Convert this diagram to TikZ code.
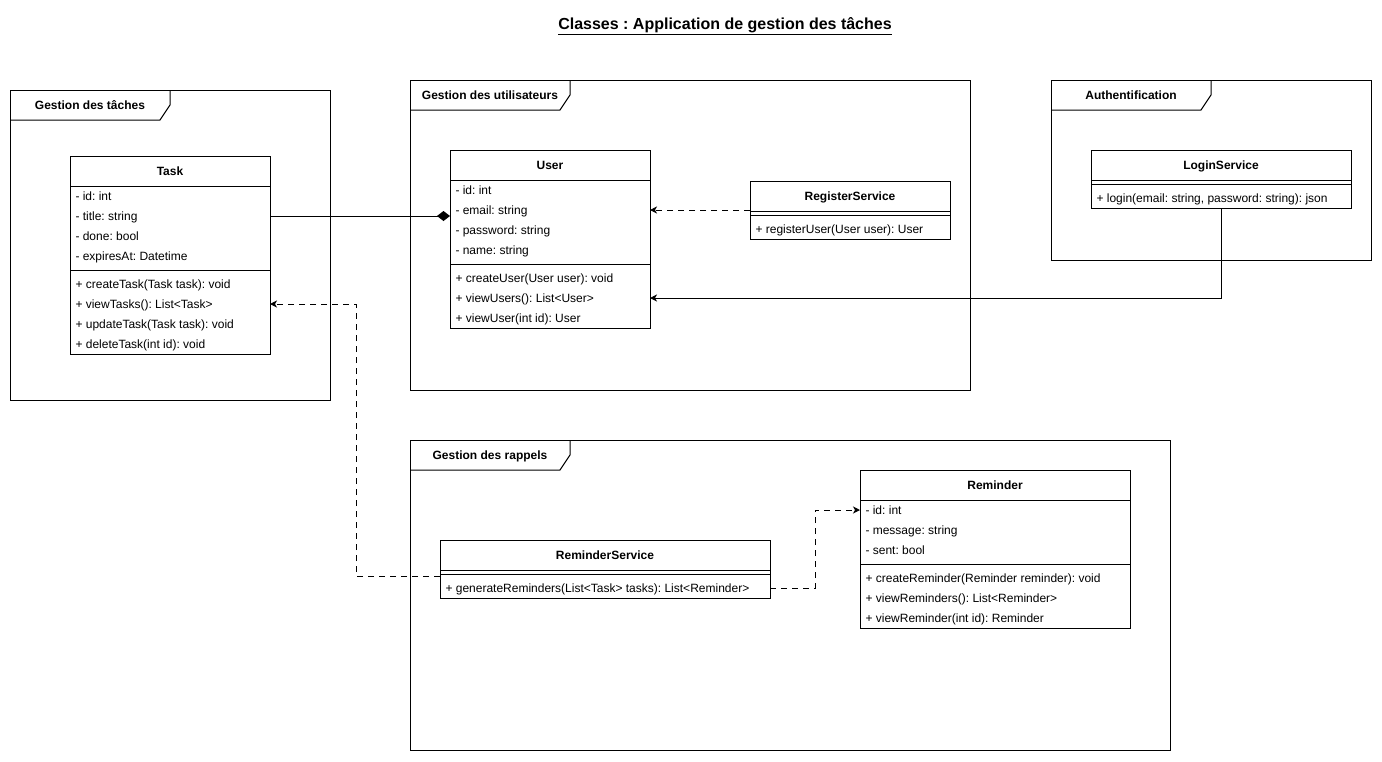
\documentclass[tikz,border=0pt]{standalone}
\usepackage{fontspec}
\setmainfont{Liberation Sans}
\usetikzlibrary{arrows.meta}
\frenchspacing

\begin{document}
\begin{tikzpicture}[x=1pt, y=-1pt, line width=1pt,
    frame/.style={draw, anchor=north west, inner sep=0pt, outer sep=0pt},
    umlclass/.style={draw, fill=white, anchor=north west, inner sep=0pt, outer sep=0pt},
    classname/.style={font=\bfseries\fontsize{12}{14}\selectfont, inner sep=0pt, text height=8.6pt, text depth=0pt},
    members/.style={anchor=north west, align=left, inner sep=0pt, font=\fontsize{12}{20}\selectfont},
    depline/.style={dash pattern=on 6pt off 5pt, -{Stealth[length=7pt,width=7pt,inset=2pt]}},
    assoc/.style={-{Stealth[length=7pt,width=7pt,inset=2pt]}},
    compo/.style={-{Diamond[length=13pt,width=10pt]}}]
        \path[use as bounding box, fill=white] (0,0) rectangle (1382,761);
        
        % Title
        \node[font=\bfseries\fontsize{16}{19}\selectfont, inner sep=0pt, text height=11.5pt, text depth=0pt] (title) at (725,24) {\underline{Classes : Application de gestion des tâches}};
        
        % Gestion des taches
        \node[frame, minimum width=320, minimum height=310] (tasks) at (10,90) {};
        \draw ([yshift=-30pt]tasks.north west) -- ++(150,0) -- ++(10,-15) -- ++(0,-15);
        \node[classname] (taskslabel) at ([xshift=80pt,yshift=-15pt]tasks.north west) {Gestion des tâches};
        
        % Gestion des utilisateurs
        \node[frame, minimum width=560, minimum height=310] (users) at (410,80) {};
        \draw ([yshift=-30pt]users.north west) -- ++(150,0) -- ++(10,-15) -- ++(0,-15);
        \node[classname] (userslabel) at ([xshift=80pt,yshift=-15pt]users.north west) {Gestion des utilisateurs};
        
        % Authentification
        \node[frame, minimum width=320, minimum height=180] (auth) at (1051,80) {};
        \draw ([yshift=-30pt]auth.north west) -- ++(150,0) -- ++(10,-15) -- ++(0,-15);
        \node[classname] (authlabel) at ([xshift=80pt,yshift=-15pt]auth.north west) {Authentification};
        
        % Gestion des rappels
        \node[frame, minimum width=760, minimum height=310] (reminders) at (410,440) {};
        \draw ([yshift=-30pt]reminders.north west) -- ++(150,0) -- ++(10,-15) -- ++(0,-15);
        \node[classname] (reminderslabel) at ([xshift=80pt,yshift=-15pt]reminders.north west) {Gestion des rappels};
        
        % Task
        \node[umlclass, minimum width=200, minimum height=198] (task) at (70,156) {};
        \draw ([yshift=-30pt]task.north west) -- ([yshift=-30pt]task.north east);
        \draw ([yshift=-114pt]task.north west) -- ([yshift=-114pt]task.north east);
        \node[classname] (taskname) at ([yshift=-15pt]task.north) {Task};
        \node[members] (taskfields) at ([xshift=5pt,yshift=-30pt]task.north west) {\strut- id: int\\- title: string\\- done: bool\\- expiresAt: Datetime};
        \node[members] (taskops) at ([xshift=5pt,yshift=-118pt]task.north west) {\strut+ createTask(Task task): void\\+ viewTasks(): List<Task>\\+ updateTask(Task task): void\\+ deleteTask(int id): void};
        
        % User
        \node[umlclass, minimum width=200, minimum height=178] (user) at (450,150) {};
        \draw ([yshift=-30pt]user.north west) -- ([yshift=-30pt]user.north east);
        \draw ([yshift=-114pt]user.north west) -- ([yshift=-114pt]user.north east);
        \node[classname] (username) at ([yshift=-15pt]user.north) {User};
        \node[members] (userfields) at ([xshift=5pt,yshift=-30pt]user.north west) {\strut- id: int\\- email: string\\- password: string\\- name: string};
        \node[members] (userops) at ([xshift=5pt,yshift=-118pt]user.north west) {\strut+ createUser(User user): void\\+ viewUsers(): List<User>\\+ viewUser(int id): User};
        
        % RegisterService
        \node[umlclass, minimum width=200, minimum height=58] (register) at (750,181) {};
        \draw ([yshift=-30pt]register.north west) -- ([yshift=-30pt]register.north east);
        \draw ([yshift=-34pt]register.north west) -- ([yshift=-34pt]register.north east);
        \node[classname] (registername) at ([yshift=-15pt]register.north) {RegisterService};
        \node[members] (registerops) at ([xshift=5pt,yshift=-38pt]register.north west) {\strut+ registerUser(User user): User};
        
        % LoginService
        \node[umlclass, minimum width=260, minimum height=58] (login) at (1091,150) {};
        \draw ([yshift=-30pt]login.north west) -- ([yshift=-30pt]login.north east);
        \draw ([yshift=-34pt]login.north west) -- ([yshift=-34pt]login.north east);
        \node[classname] (loginname) at ([yshift=-15pt]login.north) {LoginService};
        \node[members] (loginops) at ([xshift=5pt,yshift=-38pt]login.north west) {\strut+ login(email: string, password: string): json};
        
        % ReminderService
        \node[umlclass, minimum width=330, minimum height=58] (remservice) at (440,540) {};
        \draw ([yshift=-30pt]remservice.north west) -- ([yshift=-30pt]remservice.north east);
        \draw ([yshift=-34pt]remservice.north west) -- ([yshift=-34pt]remservice.north east);
        \node[classname] (remservicename) at ([yshift=-15pt]remservice.north) {ReminderService};
        \node[members] (remserviceops) at ([xshift=5pt,yshift=-38pt]remservice.north west) {\strut+ generateReminders(List<Task> tasks): List<Reminder>};
        
        % Reminder
        \node[umlclass, minimum width=270, minimum height=158] (reminder) at (860,470) {};
        \draw ([yshift=-30pt]reminder.north west) -- ([yshift=-30pt]reminder.north east);
        \draw ([yshift=-94pt]reminder.north west) -- ([yshift=-94pt]reminder.north east);
        \node[classname] (remindername) at ([yshift=-15pt]reminder.north) {Reminder};
        \node[members] (reminderfields) at ([xshift=5pt,yshift=-30pt]reminder.north west) {\strut- id: int\\- message: string\\- sent: bool};
        \node[members] (reminderops) at ([xshift=5pt,yshift=-98pt]reminder.north west) {\strut+ createReminder(Reminder reminder): void\\+ viewReminders(): List<Reminder>\\+ viewReminder(int id): Reminder};
        
        % Task composed in User
        \draw[compo] ([yshift=-60pt]task.north east) -- ([yshift=-66pt]user.north west);
        
        % RegisterService uses User
        \draw[depline] (register.west) -- (register.west -| user.east);
        
        % LoginService to User
        \draw[assoc] (login.south) |- ([yshift=-148pt]user.north east);
        
        % ReminderService uses Task
        \draw[depline] ([yshift=-36pt]remservice.north west) -| ([xshift=86pt,yshift=-148pt]task.north east) -- ([yshift=-148pt]task.north east);
        
        % ReminderService uses Reminder
        \draw[depline] ([yshift=-48pt]remservice.north east) -- ++(45,0) |- ([yshift=-40pt]reminder.north west);
        
    \end{tikzpicture}
\end{document}
